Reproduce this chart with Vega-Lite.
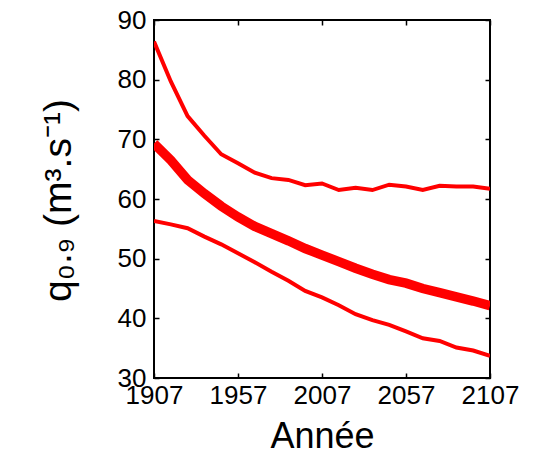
{
  "$schema": "https://vega.github.io/schema/vega-lite/v6.json",
  "width": 336,
  "height": 358,
  "autosize": {"type": "none"},
  "padding": {"left": 154, "top": 20, "right": 46, "bottom": 77},
  "config": {
    "view": {"stroke": "#000", "strokeWidth": 2},
    "axis": {
      "grid": false,
      "domain": false,
      "tickColor": "#000",
      "tickWidth": 1.5,
      "tickSize": -5,
      "labelFont": "Liberation Sans",
      "labelFontSize": 26,
      "labelColor": "#000",
      "titleFont": "Liberation Sans",
      "titleColor": "#000",
      "titleFontWeight": "normal"
    }
  },
  "data": {
    "values": [
      {"year": 1907, "series": "upper", "value": 86.4},
      {"year": 1917, "series": "upper", "value": 79.7},
      {"year": 1927, "series": "upper", "value": 73.9},
      {"year": 1937, "series": "upper", "value": 70.6},
      {"year": 1947, "series": "upper", "value": 67.5},
      {"year": 1957, "series": "upper", "value": 66.0},
      {"year": 1967, "series": "upper", "value": 64.4},
      {"year": 1977, "series": "upper", "value": 63.5},
      {"year": 1987, "series": "upper", "value": 63.2},
      {"year": 1997, "series": "upper", "value": 62.3},
      {"year": 2007, "series": "upper", "value": 62.6},
      {"year": 2017, "series": "upper", "value": 61.5},
      {"year": 2027, "series": "upper", "value": 61.9},
      {"year": 2037, "series": "upper", "value": 61.5},
      {"year": 2047, "series": "upper", "value": 62.4},
      {"year": 2057, "series": "upper", "value": 62.1},
      {"year": 2067, "series": "upper", "value": 61.5},
      {"year": 2077, "series": "upper", "value": 62.2},
      {"year": 2087, "series": "upper", "value": 62.1},
      {"year": 2097, "series": "upper", "value": 62.1},
      {"year": 2107, "series": "upper", "value": 61.7},
      {"year": 1907, "series": "lower", "value": 56.3},
      {"year": 1917, "series": "lower", "value": 55.75},
      {"year": 1927, "series": "lower", "value": 55.1},
      {"year": 1937, "series": "lower", "value": 53.7},
      {"year": 1947, "series": "lower", "value": 52.4},
      {"year": 1957, "series": "lower", "value": 50.9},
      {"year": 1967, "series": "lower", "value": 49.4},
      {"year": 1977, "series": "lower", "value": 47.8},
      {"year": 1987, "series": "lower", "value": 46.3},
      {"year": 1997, "series": "lower", "value": 44.6},
      {"year": 2007, "series": "lower", "value": 43.5},
      {"year": 2017, "series": "lower", "value": 42.2},
      {"year": 2027, "series": "lower", "value": 40.7},
      {"year": 2037, "series": "lower", "value": 39.7},
      {"year": 2047, "series": "lower", "value": 38.9},
      {"year": 2057, "series": "lower", "value": 37.8},
      {"year": 2067, "series": "lower", "value": 36.65},
      {"year": 2077, "series": "lower", "value": 36.2},
      {"year": 2087, "series": "lower", "value": 35.1},
      {"year": 2097, "series": "lower", "value": 34.6},
      {"year": 2107, "series": "lower", "value": 33.7},
      {"year": 1907, "series": "median", "value": 69.3},
      {"year": 1917, "series": "median", "value": 66.5},
      {"year": 1927, "series": "median", "value": 63.2},
      {"year": 1937, "series": "median", "value": 60.9},
      {"year": 1947, "series": "median", "value": 58.8},
      {"year": 1957, "series": "median", "value": 57.0},
      {"year": 1967, "series": "median", "value": 55.4},
      {"year": 1977, "series": "median", "value": 54.2},
      {"year": 1987, "series": "median", "value": 53.0},
      {"year": 1997, "series": "median", "value": 51.7},
      {"year": 2007, "series": "median", "value": 50.6},
      {"year": 2017, "series": "median", "value": 49.5},
      {"year": 2027, "series": "median", "value": 48.4},
      {"year": 2037, "series": "median", "value": 47.4},
      {"year": 2047, "series": "median", "value": 46.5},
      {"year": 2057, "series": "median", "value": 45.9},
      {"year": 2067, "series": "median", "value": 45.0},
      {"year": 2077, "series": "median", "value": 44.3},
      {"year": 2087, "series": "median", "value": 43.6},
      {"year": 2097, "series": "median", "value": 42.9},
      {"year": 2107, "series": "median", "value": 42.1}
    ]
  },
  "layer": [
    {
      "transform": [{"filter": "datum.series !== 'median'"}],
      "mark": {"type": "line", "color": "#ff0000", "strokeWidth": 4, "clip": true},
      "encoding": {
        "x": {
          "field": "year", "type": "quantitative",
          "scale": {"domain": [1907, 2107], "nice": false, "zero": false},
          "axis": {
            "orient": "bottom",
            "values": [1907, 1957, 2007, 2057, 2107],
            "format": "d",
            "labelPadding": 9,
            "labelFlush": false,
            "title": "Année",
            "titleFontSize": 36,
            "titleBaseline": "alphabetic",
            "titleY": 69
          }
        },
        "y": {
          "field": "value", "type": "quantitative",
          "scale": {"domain": [30, 90], "nice": false, "zero": false},
          "axis": {
            "orient": "left",
            "values": [30, 40, 50, 60, 70, 80, 90],
            "labelPadding": 13,
            "labelFlush": false,
            "title": "q₀.₉ (m³.s⁻¹)",
            "titleFontSize": 39,
            "titleBaseline": "alphabetic",
            "titleAngle": -90,
            "titleX": -84,
            "titleY": 180
          }
        },
        "detail": {"field": "series"}
      }
    },
    {
      "transform": [{"filter": "datum.series === 'median'"}],
      "mark": {"type": "line", "color": "#ff0000", "strokeWidth": 9.5, "clip": true},
      "encoding": {
        "x": {
          "field": "year", "type": "quantitative",
          "axis": {"orient": "top", "values": [1907, 1957, 2007, 2057, 2107], "labels": false, "title": null}
        },
        "y": {
          "field": "value", "type": "quantitative",
          "axis": {"orient": "right", "values": [30, 40, 50, 60, 70, 80, 90], "labels": false, "title": null}
        }
      }
    }
  ],
  "resolve": {"axis": {"x": "independent", "y": "independent"}}
}
